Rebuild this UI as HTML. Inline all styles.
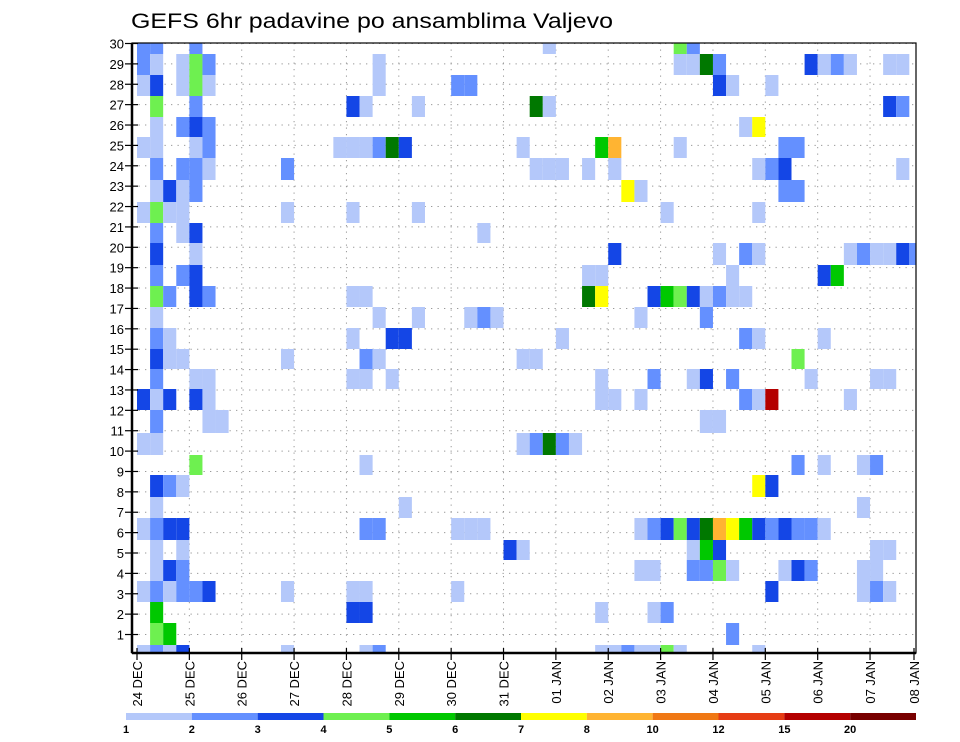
<!DOCTYPE html>
<html><head><meta charset="utf-8"><style>
html,body{margin:0;padding:0;background:#fff}
svg{display:block;font-family:"Liberation Sans",sans-serif}
</style></head><body>
<svg id="chart" width="960" height="742" viewBox="0 0 960 742" xmlns="http://www.w3.org/2000/svg">
<text x="131" y="28" font-size="21" textLength="482" lengthAdjust="spacingAndGlyphs" fill="#000">GEFS 6hr padavine po ansamblima Valjevo</text>
<g id="grid"></g>
<g id="cells"></g>
<g id="axes"></g>
<g id="legend"></g>
</svg>
<script>
// ---- data ----
const dayLabels = ["24 DEC","25 DEC","26 DEC","27 DEC","28 DEC","29 DEC","30 DEC","31 DEC","01 JAN","02 JAN","03 JAN","04 JAN","05 JAN","06 JAN","07 JAN","08 JAN"];
const memberTicks = [1,2,3,4,5,6,7,8,9,10,11,12,13,14,15,16,17,18,19,20,21,22,23,24,25,26,27,28,29,30];
const levelLabels = ["1","2","3","4","5","6","7","8","10","12","15","20"];
const levelColors = ["#b4c8fa","#6490ff","#1446e6","#6ef050","#00c800","#007800","#ffff00","#ffb432","#f07814","#e63c14","#b40000","#780000"];
const binValues = {a:1.5,b:2.5,c:3.5,d:4.5,e:5.5,f:6.5,g:7.5,h:9,i:11,j:13.5,k:17,l:25};
// one entry per drawn member row, top to bottom; "step+bin" where step = 6h index from 24 DEC 00z
const memberRows = [
"0b 1b 4b 31a 41d 42b",
"0b 1a 3a 4d 5b 18a 41a 42a 43f 44b 51c 52a 53b 54a 57a 58a",
"0a 1c 3a 4d 5a 18a 24b 25b 44c 45a 48a",
"1d 4b 16c 17a 21a 30f 31a 57c 58b",
"1a 3b 4c 5b 46a 47g",
"0a 1a 4a 5b 15a 16a 17a 18b 19f 20c 29a 35e 36h 41a 49b 50b",
"1b 3b 4b 5a 11b 30a 31a 32a 34a 36a 47a 48b 49c 58a",
"1a 2c 3a 4b 37g 38a 49b 50b",
"0a 1d 2a 3a 11a 16a 21a 40a 47a",
"1b 3a 4c 26a",
"1c 4a 36c 44a 46b 47a 54a 55b 56a 57a 58c 59b",
"1b 3b 4c 34a 35a 45a 52c 53e",
"1d 2b 4c 5b 16a 17a 34f 35g 39c 40e 41d 42c 43a 44b 45a 46a",
"1a 18a 21a 25a 26b 27a 38a 43b",
"1b 2a 16a 19c 20c 32a 46b 47a 52a",
"1c 2a 3a 11a 17b 18a 29a 30a 50d",
"1b 4a 5a 16a 17a 19a 35a 39b 42a 43c 45b 51a 56a 57a",
"0c 1a 2c 4c 5a 35a 36a 38a 46b 47a 48k 54a",
"1b 5a 6a 43a 44a",
"0a 1a 29a 30b 31f 32b 33a",
"4d 17a 50b 52a 55a 56b",
"1c 2b 3a 47g 48c",
"1a 20a 55a",
"0a 1b 2c 3c 17b 18b 24a 25a 26a 38a 39b 40c 41d 42c 43f 44h 45g 46e 47c 48b 49c 50b 51b 52a",
"1a 3a 28c 29a 42a 43e 44c 56a 57a",
"1a 2c 3b 38a 39a 42b 43b 44d 45a 49a 50c 51b 55a 56a",
"0a 1b 2a 3b 4b 5c 11a 16a 17a 24a 48c 55a 56b 57a",
"1e 16c 17c 35a 39a 40b",
"1d 2e 45b",
"0a 1b 2a 3c 11a 17a 18b 35a 36a 37b 38a 39a 40d 41a 47a"
];
const levelBounds = [1,2,3,4,5,6,7,8,10,12,15,20];

// ---- layout ----
const NS="http://www.w3.org/2000/svg";
const L=132, R=916, T=43, B=653;
const x0=137, stepW=13.09;
const rowEdges=[43,54,75,96,117,137,158,180,202,223,243,265,286,307,328,349,369,389,410,433,455,475,497,518,540,560,581,602,623,645,653];
function xStep(k){return x0+k*stepW;}
function yTick(n){return 43.5+(30-n)*20.38;}
function colorFor(v){let i=0;for(let j=0;j<levelBounds.length;j++){if(v>=levelBounds[j])i=j;}return levelColors[i];}
function mk(tag,attrs,parent){const e=document.createElementNS(NS,tag);for(const k in attrs)e.setAttribute(k,attrs[k]);parent.appendChild(e);return e;}

const grid=document.getElementById('grid');
memberTicks.forEach(n=>{
  const l=mk('line',{x1:L,x2:R,y1:yTick(n),y2:yTick(n),stroke:'#999','stroke-width':1,'stroke-dasharray':'1.3 5.2'},grid);
  
  
});
dayLabels.forEach((d,i)=>{
  if(i===0||i===dayLabels.length-1)return;
  const x=xStep(i*4);
  const l=mk('line',{x1:x,x2:x,y1:T,y2:B,stroke:'#999','stroke-width':1,'stroke-dasharray':'1.3 5.2'},grid);
  
  
});

const cells=document.getElementById('cells');
memberRows.forEach((row,r)=>{
  row.split(' ').forEach(tok=>{
    const k=parseInt(tok,10), code=tok.replace(/[0-9]/g,'');
    const v=binValues[code];
    let xa=Math.max(L,xStep(k)), xb=Math.min(R,xStep(k+1));
    const c=mk('rect',{x:xa,y:rowEdges[r],width:xb-xa,height:rowEdges[r+1]-rowEdges[r],fill:colorFor(v)},cells);
    
    
  });
});

const axes=document.getElementById('axes');
const frame=mk('rect',{x:L,y:T,width:R-L,height:B-T,fill:'none',stroke:'#000','stroke-width':1.2},axes);


const ya=mk('line',{x1:L,x2:L,y1:T,y2:B,stroke:'#000','stroke-width':2.5},axes);


const xa=mk('line',{x1:L,x2:R,y1:B,y2:B,stroke:'#000','stroke-width':2.5},axes);


memberTicks.forEach(n=>{
  const y=yTick(n);
  const t=mk('line',{x1:125,x2:138,y1:y,y2:y,stroke:'#000','stroke-width':1.2},axes);
  
  
  const tx=mk('text',{x:124,y:y+5,'font-size':13,'text-anchor':'end',fill:'#000'},axes);
  tx.textContent=String(n);
  
  
});
dayLabels.forEach((d,i)=>{
  const x=Math.min(xStep(i*4),914);
  const t=mk('line',{x1:x,x2:x,y1:B-5,y2:B+7,stroke:'#000','stroke-width':1.2},axes);
  
  
  const tx=mk('text',{transform:`translate(${x+5},661) rotate(-90)`,'font-size':13,'text-anchor':'end',fill:'#000'},axes);
  tx.textContent=d;
  
  
});

const legend=document.getElementById('legend');
const lx0=126, lw=(916-126)/levelColors.length;
levelColors.forEach((c,i)=>{
  const r=mk('rect',{x:lx0+i*lw,y:713,width:lw,height:7,fill:c},legend);
  
  
});
levelLabels.forEach((s,i)=>{
  const t=mk('text',{x:lx0+i*lw,y:733,'font-size':11,'font-weight':'bold','text-anchor':'middle',fill:'#000'},legend);
  t.textContent=s;
  
  
});
</script>
</body></html>
